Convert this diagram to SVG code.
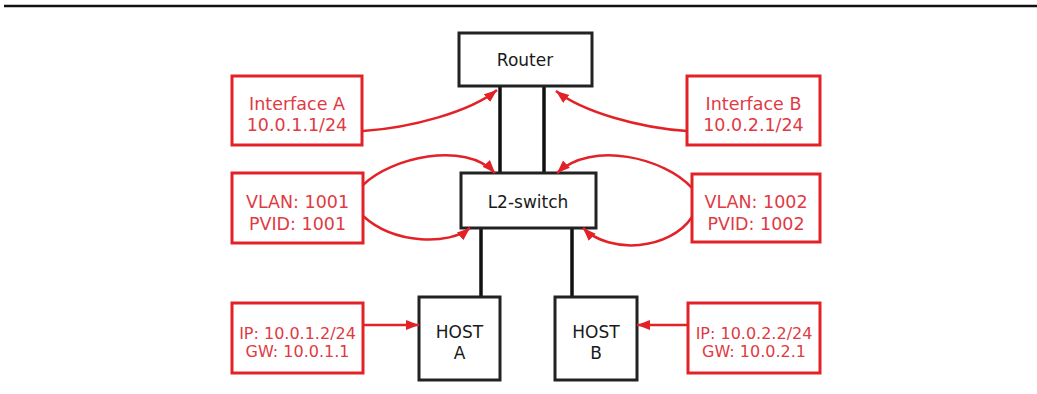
<svg xmlns="http://www.w3.org/2000/svg" width="1037" height="394" viewBox="0 0 1037 394">
<style>
.box{fill:#fff;stroke:#222;stroke-width:3}
.rbox{fill:#fff;stroke:#e32228;stroke-width:3}
.t{font-family:"DejaVu Sans",Verdana,sans-serif;font-size:17px;fill:#1a1a1a;text-anchor:middle}
.rt{font-family:"DejaVu Sans",Verdana,sans-serif;font-size:17.5px;fill:#e03a44;text-anchor:middle}
.rs{font-family:"DejaVu Sans",Verdana,sans-serif;font-size:16px;fill:#e03a44;text-anchor:middle}
.link{stroke:#111;stroke-width:3.5;fill:none}
.arr{stroke:#e32228;stroke-width:2.5;fill:none;marker-end:url(#ah)}
</style>
<defs>
<marker id="ah" markerUnits="userSpaceOnUse" markerWidth="14" markerHeight="12" refX="13" refY="5" orient="auto">
<path d="M0,0 L13,5 L0,10 z" fill="#e32228"/>
</marker>
</defs>
<rect width="1037" height="394" fill="#fff"/>
<line x1="4" y1="6" x2="1037" y2="6" stroke="#111" stroke-width="2.5"/>
<g id="links">
<line class="link" x1="500" y1="86" x2="500" y2="173"/>
<line class="link" x1="544" y1="86" x2="544" y2="173"/>
<line class="link" x1="481" y1="228" x2="481" y2="297"/>
<line class="link" x1="572" y1="228" x2="572" y2="297"/>
</g>
<g id="router"><rect class="box" x="459" y="33" width="133" height="53"/><text class="t" x="525" y="66">Router</text></g>
<g id="switch"><rect class="box" x="461" y="173" width="135" height="55"/><text class="t" x="528" y="208">L2-switch</text></g>
<g id="hostA"><rect class="box" x="419" y="297" width="81" height="83"/><text class="t" x="459.5" y="338">HOST</text><text class="t" x="459.5" y="359">A</text></g>
<g id="hostB"><rect class="box" x="555" y="297" width="82" height="83"/><text class="t" x="596" y="338">HOST</text><text class="t" x="596" y="359">B</text></g>
<g id="ifA"><rect class="rbox" x="232" y="76" width="130" height="69"/><text class="rt" x="297" y="110">Interface A</text><text class="rt" x="297" y="130.5">10.0.1.1/24</text></g>
<g id="ifB"><rect class="rbox" x="687" y="76" width="133" height="69"/><text class="rt" x="753.5" y="110">Interface B</text><text class="rt" x="753.5" y="130.5">10.0.2.1/24</text></g>
<g id="vlan1"><rect class="rbox" x="232" y="173" width="131" height="70"/><text class="rt" x="297.5" y="208">VLAN: 1001</text><text class="rt" x="297.5" y="229.5">PVID: 1001</text></g>
<g id="vlan2"><rect class="rbox" x="692" y="174" width="128" height="68"/><text class="rt" x="756" y="208">VLAN: 1002</text><text class="rt" x="756" y="229.5">PVID: 1002</text></g>
<g id="ipA"><rect class="rbox" x="232" y="303" width="131" height="70"/><text class="rs" x="297.5" y="339">IP: 10.0.1.2/24</text><text class="rs" x="297.5" y="357">GW: 10.0.1.1</text></g>
<g id="ipB"><rect class="rbox" x="688" y="303" width="132" height="70"/><text class="rs" x="754" y="339">IP: 10.0.2.2/24</text><text class="rs" x="754" y="357">GW: 10.0.2.1</text></g>
<g id="connectors">
<path class="arr" d="M363,131 C410,128 470,112 497,90"/>
<path class="arr" d="M687,131 C640,128 583,112 556,91"/>
<path class="arr" d="M363,185 C390,158 465,140 495,173"/>
<path class="arr" d="M363,216 C395,245 450,245 470,228"/>
<path class="arr" d="M692,188 C665,158 592,140 557,173"/>
<path class="arr" d="M692,217 C670,250 610,255 583,228"/>
<path class="arr" d="M363,325 L419,325"/>
<path class="arr" d="M688,325 L637,325"/>
</g>
</svg>
